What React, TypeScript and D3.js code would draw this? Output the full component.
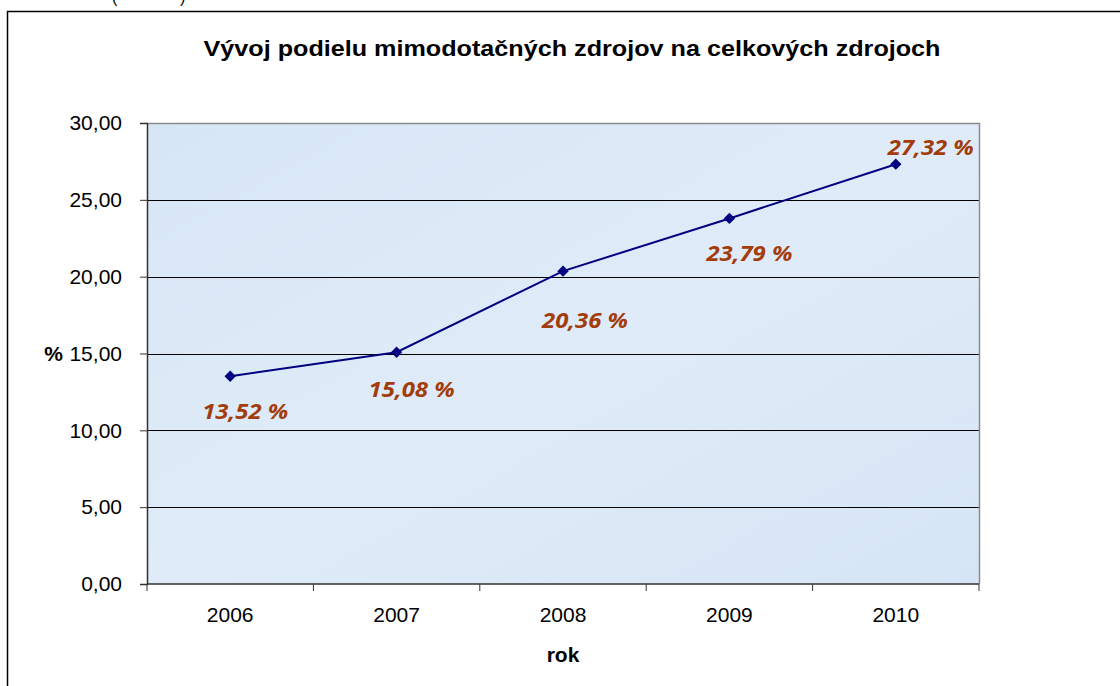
import { useEffect, useRef } from 'react';
import * as d3 from 'd3';

const years = ['2006', '2007', '2008', '2009', '2010'];
const shares = [13.52, 15.08, 20.36, 23.79, 27.32];
const yTicks = [0, 5, 10, 15, 20, 25, 30];
// label placement relative to the point (dx, dy of text center)
const labelOffsets = [
  [15, 35],
  [15, 37],
  [22, 49],
  [20, 35],
  [35, -17],
];

const App = () => {
  const ref = useRef<SVGSVGElement | null>(null);

  useEffect(() => {
    const svg = d3.select(ref.current);
    svg.selectAll('*').remove();

    const width = 1120;
    const height = 686;
    const plot = { left: 147, right: 979, top: 123, bottom: 584 };
    const font = 'Liberation Sans, Arial, sans-serif';
    const fs = 21;

    // outer chart frame (only top and left edges visible)
    svg
      .append('rect')
      .attr('width', width)
      .attr('height', height)
      .attr('fill', '#fff');
    svg
      .append('path')
      .attr('d', `M7.5,${height} V11.5 H${width}`)
      .attr('fill', 'none')
      .attr('stroke', '#000')
      .attr('stroke-width', 1.5);

    // caption above the frame, mostly cropped
    svg
      .append('text')
      .attr('x', 112)
      .attr('y', 3)
      .attr('font-family', font)
      .attr('font-size', 16)
      .text('(');
    svg
      .append('text')
      .attr('x', 180)
      .attr('y', 3)
      .attr('font-family', font)
      .attr('font-size', 16)
      .text(')');

    const x = d3
      .scaleBand()
      .domain(years)
      .range([plot.left, plot.right])
      .paddingInner(0)
      .paddingOuter(0);
    const y = d3.scaleLinear().domain([0, 30]).range([plot.bottom, plot.top]);

    // plot area background
    const defs = svg.append('defs');
    const grad = defs
      .append('linearGradient')
      .attr('id', 'bg')
      .attr('x1', 0)
      .attr('y1', 0)
      .attr('x2', 1)
      .attr('y2', 1);
    grad.append('stop').attr('offset', '0%').attr('stop-color', '#d7e6f6');
    grad.append('stop').attr('offset', '50%').attr('stop-color', '#dfebf8');
    grad.append('stop').attr('offset', '100%').attr('stop-color', '#d6e5f5');

    svg
      .append('rect')
      .attr('x', plot.left)
      .attr('y', plot.top)
      .attr('width', plot.right - plot.left)
      .attr('height', plot.bottom - plot.top)
      .attr('fill', 'url(#bg)');

    // grid lines
    svg
      .append('g')
      .selectAll('line')
      .data(yTicks.filter((t) => t > 0 && t < 30))
      .join('line')
      .attr('x1', plot.left)
      .attr('x2', plot.right)
      .attr('y1', (d) => Math.round(y(d)) + 0.5)
      .attr('y2', (d) => Math.round(y(d)) + 0.5)
      .attr('stroke', '#000')
      .attr('stroke-width', 1);

    // plot border (top/right gray)
    svg
      .append('path')
      .attr('d', `M${plot.left},${plot.top + 0.5} H${plot.right + 0.5} V${plot.bottom}`)
      .attr('fill', 'none')
      .attr('stroke', '#8c8c8c')
      .attr('stroke-width', 1.5);

    // y axis
    const yAxis = svg
      .append('g')
      .attr('transform', `translate(${plot.left},0)`)
      .call(
        d3
          .axisLeft(y)
          .tickValues(yTicks)
          .tickSize(7)
          .tickPadding(18)
          .tickFormat((d) => d3.format('.2f')(d as number).replace('.', ','))
      );
    yAxis.select('.domain').attr('stroke', '#333').attr('stroke-width', 1.5);
    yAxis.selectAll('.tick line').attr('stroke', '#333');
    yAxis
      .selectAll('.tick text')
      .attr('font-family', font)
      .attr('font-size', fs)
      .attr('fill', '#000');

    svg
      .append('text')
      .attr('x', 63)
      .attr('y', y(15))
      .attr('dy', '0.35em')
      .attr('text-anchor', 'end')
      .attr('font-family', font)
      .attr('font-size', fs)
      .attr('font-weight', 'bold')
      .text('%');

    // x axis
    const xAxis = svg
      .append('g')
      .attr('transform', `translate(0,${plot.bottom})`);
    xAxis
      .append('line')
      .attr('x1', plot.left)
      .attr('x2', plot.right)
      .attr('stroke', '#333')
      .attr('stroke-width', 1.5);
    const bounds = [...years.map((d) => x(d) as number), plot.right];
    xAxis
      .selectAll('line.tk')
      .data(bounds)
      .join('line')
      .attr('class', 'tk')
      .attr('x1', (d) => d)
      .attr('x2', (d) => d)
      .attr('y1', 0)
      .attr('y2', 7)
      .attr('stroke', '#333');
    xAxis
      .selectAll('text')
      .data(years)
      .join('text')
      .attr('x', (d) => (x(d) as number) + x.bandwidth() / 2)
      .attr('y', 38)
      .attr('text-anchor', 'middle')
      .attr('font-family', font)
      .attr('font-size', fs)
      .text((d) => d);

    svg
      .append('text')
      .attr('x', 563)
      .attr('y', 662)
      .attr('text-anchor', 'middle')
      .attr('font-family', font)
      .attr('font-size', fs)
      .attr('font-weight', 'bold')
      .text('rok');

    // title
    svg
      .append('text')
      .attr('x', 572)
      .attr('y', 56)
      .attr('text-anchor', 'middle')
      .attr('font-family', font)
      .attr('font-size', 22)
      .attr('font-weight', 'bold')
      .attr('textLength', 737)
      .attr('lengthAdjust', 'spacingAndGlyphs')
      .text('Vývoj podielu mimodotačných zdrojov na celkových zdrojoch');

    // series
    const cx = (i: number) => (x(years[i]) as number) + x.bandwidth() / 2;
    const line = d3
      .line<number>()
      .x((_, i) => cx(i))
      .y((d) => y(d));

    svg
      .append('path')
      .datum(shares)
      .attr('d', line)
      .attr('fill', 'none')
      .attr('stroke', '#000080')
      .attr('stroke-width', 2);

    svg
      .append('g')
      .selectAll('path')
      .data(shares)
      .join('path')
      .attr('transform', (d, i) => `translate(${cx(i)},${y(d)}) rotate(45)`)
      .attr('d', 'M-4,-4H4V4H-4Z')
      .attr('fill', '#000080');

    svg
      .append('g')
      .selectAll('text')
      .data(shares)
      .join('text')
      .attr('x', (d, i) => cx(i) + labelOffsets[i][0])
      .attr('y', (d, i) => y(d) + labelOffsets[i][1])
      .attr('dy', '0.35em')
      .attr('text-anchor', 'middle')
      .attr('font-family', 'Open Sans, Lato, sans-serif')
      .attr('font-size', 22)
      .attr('font-weight', 'bold')
      .attr('font-style', 'italic')
      .attr('textLength', 86)
      .attr('lengthAdjust', 'spacingAndGlyphs')
      .attr('fill', '#a33c0b')
      .text((d) => d3.format('.2f')(d).replace('.', ',') + ' %');
  }, []);

  return (
    <svg
      ref={ref}
      width={1120}
      height={686}
      style={{ position: 'absolute', left: 0, top: 0, display: 'block' }}
    />
  );
};

export default App;
